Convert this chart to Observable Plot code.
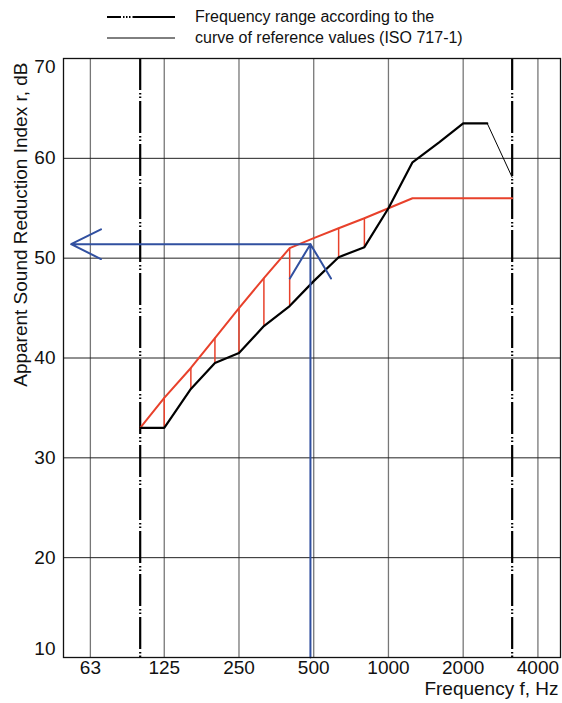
<!DOCTYPE html>
<html><head><meta charset="utf-8">
<script src="https://cdn.jsdelivr.net/npm/d3@7"></script>
<script src="https://cdn.jsdelivr.net/npm/@observablehq/plot@0.6"></script>
<style>
body{margin:0;background:#fff;font-family:"Liberation Sans",Arial,sans-serif;}
#legend{position:relative;height:50px;width:562px;}
#legend svg{position:absolute;left:0;top:0;}
#legend .t{position:absolute;left:195px;font-size:16px;line-height:20px;color:#111;white-space:nowrap;}
#chart svg{display:block;}
</style></head><body>
<div id="legend">
  <svg width="562" height="50">
    <line x1="107" x2="175" y1="17" y2="17" stroke="#000" stroke-width="2" stroke-dasharray="14,2,1.5,1.5,1.5,1.5,1.5,2,60"></line>
    <line x1="107" x2="175" y1="38" y2="38" stroke="#000" stroke-width="1"></line>
  </svg>
  <div class="t" style="top:7px">Frequency range according to the</div>
  <div class="t" style="top:28px">curve of reference values (ISO 717-1)</div>
</div>
<div id="chart"></div>
<script>
// 1/3-octave band centre frequencies (Hz)
const freqs = [100,125,160,200,250,315,400,500,630,800,1000,1250,1600,2000,2500,3150];
// measured apparent sound reduction index (dB)
const measured = [33,33,36.9,39.5,40.5,43.2,45.2,47.7,50.1,51.1,55,59.6,61.6,63.5,63.5,58.1];
// reference curve ISO 717-1
const reference = [33,36,39,42,45,48,51,52,53,54,55,56,56,56,56,56];
const xTicks = [63,125,250,500,1000,2000,4000];
const yTicks = [10,20,30,40,50,60,70];
const rangeLimits = [100,3150];
const arrowLevel = 51.4;
const arrowFreq = 485;
const arrowEndFreq = 52.7;

const red = "#e8412b", blue = "#3150a0";
const rows = freqs.map((f,i)=>({f, m: measured[i], r: reference[i]}));
const thick = rows.filter(d=>d.f<=2500);
const thin = rows.filter(d=>d.f>=2500);
const hatch = rows.filter(d=>d.m<d.r && d.f!==500);
const fs = 19;

const chart = Plot.plot({
  width:562, height:653,
  marginTop:8, marginBottom:46, marginLeft:63, marginRight:2,
  x:{type:"log", domain:[49.1,4932], axis:null},
  y:{domain:[10,70], axis:null},
  style:{fontFamily:'"Liberation Sans",Arial,sans-serif', fontSize:fs+"px", background:"#fff", color:"#111", overflow:"visible"},
  marks:[
    Plot.ruleX(xTicks, {stroke:"#777", strokeWidth:1.3}),
    Plot.ruleY(yTicks.filter(v=>v>10&&v<70), {stroke:"#222", strokeWidth:1}),
    Plot.ruleX(rangeLimits, {stroke:"#000", strokeWidth:2.2, strokeDasharray:"32,3,1.5,2,1.5,3"}),
    Plot.ruleX(hatch, {x:"f", y1:"m", y2:"r", stroke:red, strokeWidth:1.5}),
    Plot.line(rows, {x:"f", y:"r", stroke:red, strokeWidth:2}),
    Plot.line(thick, {x:"f", y:"m", stroke:"#000", strokeWidth:2.2}),
    Plot.line(thin, {x:"f", y:"m", stroke:"#000", strokeWidth:1}),
    Plot.arrow([{x1:arrowFreq, y1:arrowLevel, x2:arrowEndFreq, y2:arrowLevel}], {x1:"x1", y1:"y1", x2:"x2", y2:"y2", stroke:blue, strokeWidth:2, headAngle:53, headLength:25}),
    Plot.arrow([{x1:arrowFreq, y1:10, x2:arrowFreq, y2:arrowLevel}], {x1:"x1", y1:"y1", x2:"x2", y2:"y2", stroke:blue, strokeWidth:2, headAngle:62, headLength:30}),
    Plot.frame({stroke:"#111", strokeWidth:1.3}),
    Plot.text(xTicks, {x:d=>d, frameAnchor:"bottom", lineAnchor:"top", dy:3, text:d=>String(d), fontSize:fs, fill:"#111"}),
    Plot.text(yTicks.filter(v=>v>10&&v<70), {y:d=>d, frameAnchor:"left", textAnchor:"end", dx:-8, text:d=>String(d), fontSize:fs, fill:"#111"}),
    Plot.text([yTicks[0]], {y:d=>d, frameAnchor:"left", textAnchor:"end", dx:-8, dy:-9, text:d=>String(d), fontSize:fs, fill:"#111"}),
    Plot.text([yTicks[yTicks.length-1]], {y:d=>d, frameAnchor:"left", textAnchor:"end", dx:-8, dy:8, text:d=>String(d), fontSize:fs, fill:"#111"}),
    Plot.text(["Apparent Sound Reduction Index r, dB"], {frameAnchor:"top-left", rotate:-90, textAnchor:"end", dx:-50, dy:4, fontSize:fs, fill:"#111"}),
    Plot.text(["Frequency f, Hz"], {frameAnchor:"bottom-right", textAnchor:"end", dx:-2, dy:37, fontSize:fs, fill:"#111"})
  ]
});
document.getElementById("chart").appendChild(chart);
</script>
</body></html>
